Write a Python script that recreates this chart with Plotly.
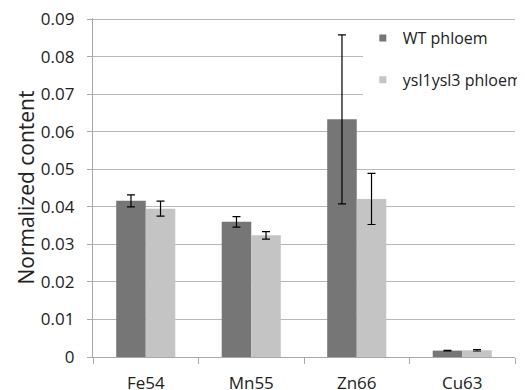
import plotly.graph_objects as go

categories = ["Fe54", "Mn55", "Zn66", "Cu63"]
wt_values = [0.0416, 0.0360, 0.0633, 0.0017]
wt_errors = [0.0016, 0.0014, 0.0225, 0.0001]
ysl_values = [0.0395, 0.0324, 0.0421, 0.0018]
ysl_errors = [0.0020, 0.0010, 0.0068, 0.0002]
series_names = ["WT phloem", "ysl1ysl3 phloem"]
y_ticks = [0, 0.01, 0.02, 0.03, 0.04, 0.05, 0.06, 0.07, 0.08, 0.09]
y_tick_labels = ["0", "0.01", "0.02", "0.03", "0.04", "0.05", "0.06", "0.07", "0.08", "0.09"]

dark = "#767676"
light = "#c4c4c4"
font = "Open Sans"

fig = go.Figure()
for name, vals, errs, col in [(series_names[0], wt_values, wt_errors, dark),
                              (series_names[1], ysl_values, ysl_errors, light)]:
    fig.add_trace(go.Bar(
        x=categories, y=vals, name=name, marker_color=col, marker_line_width=0,
        showlegend=False,
        error_y=dict(type="data", array=errs, visible=True, color="black",
                     thickness=1.2, width=4),
    ))
    fig.add_trace(go.Scatter(
        x=[None], y=[None], mode="markers", name=name, legendgroup=name,
        marker=dict(symbol="square", size=7, color=col),
    ))

# the page body adds an 8px offset; margins are set so the plot lands in place
fig.update_layout(
    width=535, height=390, autosize=False,
    margin=dict(l=85, r=28, t=10, b=41),
    paper_bgcolor="white", plot_bgcolor="white",
    barmode="group", bargap=0.44, bargroupgap=0,
    font=dict(family=font, size=17, color="#222222"),
    legend=dict(x=1.028, y=0.991, xanchor="right", yanchor="top",
                bgcolor="white", borderwidth=0, tracegroupgap=18,
                font=dict(family=font, size=16, color="#222222"),
                itemwidth=30),
    xaxis=dict(showline=True, linecolor="#a8a8a8", linewidth=1.2,
               ticks="outside", tickson="boundaries", ticklen=6,
               tickcolor="#a8a8a8", showgrid=False, automargin=False,
               tickfont=dict(size=17), ticklabelstandoff=10),
    yaxis=dict(range=[0, 0.0903], tickvals=y_ticks, ticktext=y_tick_labels,
               showline=True, linecolor="#a8a8a8", linewidth=1.2,
               ticks="outside", ticklen=5, tickcolor="#a8a8a8",
               showgrid=True, gridcolor="#b8b8b8", gridwidth=1.2,
               zeroline=False, automargin=False, ticklabeloverflow="allow",
               tickfont=dict(size=17), ticklabelstandoff=9,
               title=dict(text="Normalized content", font=dict(size=21),
                          standoff=0)),
)

fig.write_html("out.html")
